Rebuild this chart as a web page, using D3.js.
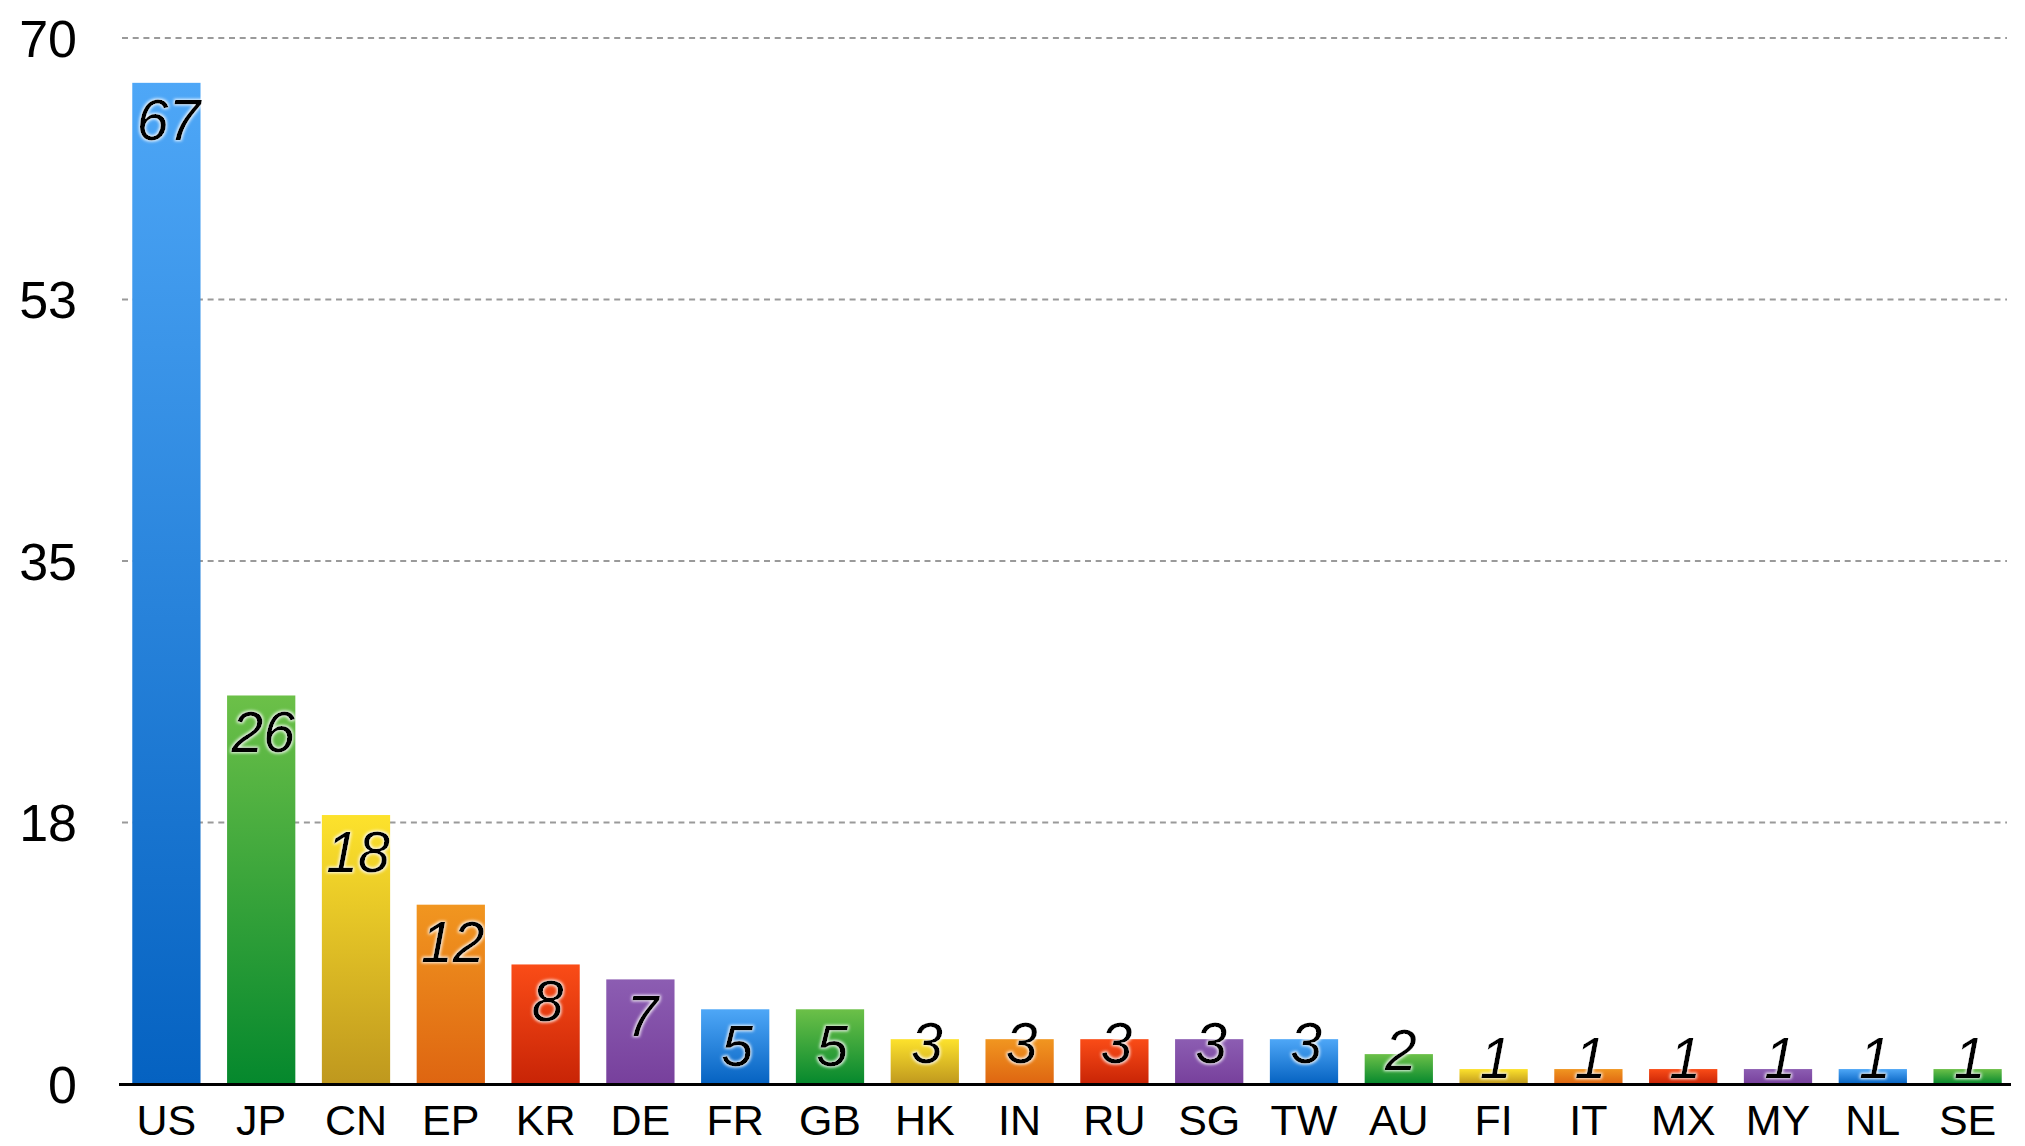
<!DOCTYPE html>
<html>
<head>
<meta charset="utf-8">
<script src="https://cdn.jsdelivr.net/npm/d3@7"></script>
<style>
  body { margin: 0; background: #fff; }
  svg { display: block; font-family: "Liberation Sans", Arial, sans-serif; }
</style>
</head>
<body>
<svg id="chart" width="2025" height="1146"></svg>
<script>
const countries = ["US", "JP", "CN", "EP", "KR", "DE", "FR", "GB", "HK", "IN",
  "RU", "SG", "TW", "AU", "FI", "IT", "MX", "MY", "NL", "SE"];
const counts = [67, 26, 18, 12, 8, 7, 5, 5, 3, 3, 3, 3, 3, 2, 1, 1, 1, 1, 1, 1];
const yTicks = [0, 17.5, 35, 52.5, 70];
const yTickLabels = ["0", "18", "35", "53", "70"];

// top / bottom colours of each bar gradient, cycled
const palette = [
  ["#4ea7f7", "#0562c1"],
  ["#6cc048", "#05882d"],
  ["#fde22c", "#bf981e"],
  ["#f19620", "#de6511"],
  ["#fa4c17", "#c82406"],
  ["#8c5db2", "#77409c"],
];

const svg = d3.select("#chart");

const x = d3.scaleBand()
  .domain(countries)
  .range([119, 2015])
  .paddingInner(0.28)
  .paddingOuter(0.14);

const y = d3.scaleLinear().domain([0, 70]).range([1084, 38]);

const defs = svg.append("defs");

palette.forEach((c, i) => {
  const g = defs.append("linearGradient")
    .attr("id", "grad" + i)
    .attr("x1", 0).attr("y1", 0)
    .attr("x2", 0).attr("y2", 1);
  g.append("stop").attr("offset", "0%").attr("stop-color", c[0]);
  g.append("stop").attr("offset", "100%").attr("stop-color", c[1]);
});

// white halo behind the value labels
const glow = defs.append("filter")
  .attr("id", "glow")
  .attr("x", "-20%").attr("y", "-20%")
  .attr("width", "140%").attr("height", "140%");
glow.append("feMorphology")
  .attr("in", "SourceAlpha").attr("operator", "dilate").attr("radius", 1)
  .attr("result", "fat");
glow.append("feGaussianBlur")
  .attr("in", "fat").attr("stdDeviation", 1.8).attr("result", "blur");
glow.append("feFlood").attr("flood-color", "#fff").attr("flood-opacity", 0.9);
glow.append("feComposite").attr("in2", "blur").attr("operator", "in")
  .attr("result", "halo");
const merge = glow.append("feMerge");
merge.append("feMergeNode").attr("in", "halo");
merge.append("feMergeNode").attr("in", "SourceGraphic");

// grid lines
svg.append("g")
  .selectAll("line")
  .data(yTicks.filter((d) => d > 0))
  .join("line")
  .attr("x1", 122)
  .attr("x2", 2007)
  .attr("y1", (d) => y(d))
  .attr("y2", (d) => y(d))
  .attr("stroke", "#9a9a9a")
  .attr("stroke-width", 2)
  .attr("stroke-dasharray", "6,4.7");

// y tick labels
svg.append("g")
  .selectAll("text")
  .data(yTicks)
  .join("text")
  .attr("x", 77)
  .attr("y", (d) => y(d))
  .attr("dy", "0.36em")
  .attr("text-anchor", "end")
  .attr("font-size", 52)
  .attr("fill", "#000")
  .text((d, i) => yTickLabels[i]);

// bars
svg.append("g")
  .selectAll("rect")
  .data(countries)
  .join("rect")
  .attr("x", (d) => x(d))
  .attr("width", x.bandwidth())
  .attr("y", (d, i) => y(counts[i]))
  .attr("height", (d, i) => y(0) - y(counts[i]))
  .attr("fill", (d, i) => `url(#grad${i % palette.length})`);

// baseline
svg.append("line")
  .attr("x1", 119)
  .attr("x2", 2011)
  .attr("y1", y(0) + 0.5)
  .attr("y2", y(0) + 0.5)
  .attr("stroke", "#000")
  .attr("stroke-width", 3);

// x labels
svg.append("g")
  .selectAll("text")
  .data(countries)
  .join("text")
  .attr("x", (d) => x(d) + x.bandwidth() / 2)
  .attr("y", 1135)
  .attr("text-anchor", "middle")
  .attr("font-size", 43)
  .attr("fill", "#000")
  .text((d) => d);

// value labels
svg.append("g")
  .selectAll("text")
  .data(countries)
  .join("text")
  .attr("x", (d) => x(d) + x.bandwidth() / 2 + 2)
  .attr("y", (d, i) => {
    const top = y(counts[i]);
    const h = y(0) - top;
    return h >= 56 ? top + 57 : top + h / 2 + 1;
  })
  .attr("text-anchor", "middle")
  .attr("font-size", 57)
  .attr("font-style", "italic")
  .attr("fill", "#000")
  .attr("filter", "url(#glow)")
  .text((d, i) => counts[i]);
</script>
</body>
</html>
